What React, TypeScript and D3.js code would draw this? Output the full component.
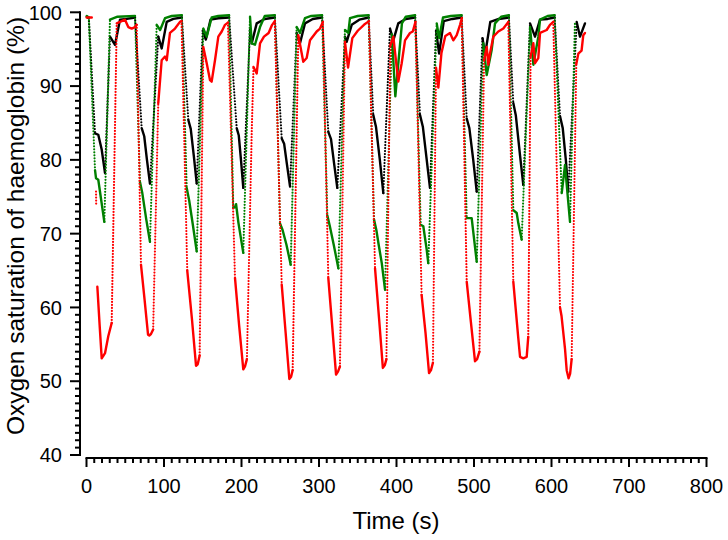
import React from "react";
import * as d3 from "d3";

type Pt = [number, number | null];

// Time (s) vs oxygen saturation (%)
const blackSeries: Pt[] = [
  [0.3, 99.4], [3, 99.2],
  [11, 83.6], [15.2, 83.4], [19.6, 81.4], [23.9, 78.2], [30.3, 96.7], [36.8, 95.6], [43.2, 99], [52, 99.1], [62.6, 99.3],
  [71.2, 84.3], [74.5, 83.2], [78, 80], [81.9, 76.8], [92.6, 96.7], [97, 95.1], [103.5, 98.7], [112, 99.1], [123, 99.3],
  [131.4, 85.4], [134.5, 84.2], [138.5, 80.5], [142.2, 76.8], [150, 97.5], [154, 96.3], [160, 99], [170, 99.2], [184, 99.3],
  [193.8, 84.3], [196.5, 83.3], [199.5, 79.8], [202.3, 76.2], [211, 97.6], [213.2, 95.8], [219.6, 98.5], [230, 99.1], [243, 99.3],
  [251.9, 82.9], [255, 82.2], [258.5, 79.5], [262.6, 76.4], [271.2, 97.2], [275.5, 95.8], [281.9, 98.5], [292, 99.1], [304, 99.3],
  [312, 83.8], [315.5, 82.8], [319.5, 79.5], [323.6, 76.2], [333.5, 96.7], [335.7, 96], [342.2, 98.3], [352, 99], [364, 99.3],
  [370, 86.1], [373.5, 84.5], [378.5, 80], [383, 75.5], [391.6, 97.8], [395.9, 96.2], [402.3, 98.5], [412, 99.1], [424, 99.3],
  [430.3, 86.1], [434, 84.5], [439, 80], [443.2, 76.2], [451, 97.5], [455, 94.4], [461, 98.8], [472, 99.1], [484, 99.3],
  [490.6, 85.6], [494, 84.3], [499, 80], [503.5, 75.7], [511, 96.5], [514.2, 94.2], [521, 98.7], [532, 99.1], [545, 99.3],
  [550.7, 87.7], [554, 86], [559.5, 80.5], [563.6, 76.6], [572.3, 98.5], [578.7, 96.7], [585.2, 99], [595, 99.1], [604, 99.3],
  [611, 85.9], [614.5, 84.3], [618.5, 80], [621.7, 75.7], [632.5, 98.7], [636.8, 96.7], [643.2, 98.5],
];

const greenSeries: Pt[] = [
  [0.3, 99.5], [3, 99.3],
  [11, 78.6], [12.3, 77.5], [15.2, 77.3], [23, 71.6], [30.3, 99], [40, 99.4], [62.6, 99.5],
  [69, 77], [72, 75.5], [77, 72], [81.9, 68.9], [90.6, 98.3], [95, 97.6], [101.3, 99.2], [110, 99.5], [123, 99.6],
  [129.3, 76.2], [132.5, 74.5], [137.5, 71], [142.2, 67.6], [150.7, 97.8], [155.1, 96.7], [161.5, 99.3], [170, 99.5], [184, 99.6],
  [189.4, 73.5], [191.5, 73.6], [193, 74], [196, 71.5], [202.3, 67.4], [211, 99.4], [213.2, 95.8], [217.4, 95.6], [223.9, 98], [230, 99.5], [243, 99.6],
  [249.7, 71.4], [253, 70.5], [258, 68.5], [263.5, 65.8], [271.2, 98], [275.5, 97.2], [281.9, 99.2], [290, 99.5], [304, 99.6],
  [310.7, 72.5], [314, 71], [319, 68.5], [325, 65.3], [333.5, 97.6], [337.8, 97.2], [340, 99.2], [350, 99.5], [364, 99.6],
  [371, 71.9], [374, 70.5], [377, 68.5], [381, 66], [385.2, 62.4], [394, 97], [398.5, 88.6], [407, 98.5], [412, 99.4], [424, 99.6],
  [431.2, 71.2], [434.6, 71], [439, 67.8], [441, 66], [451.9, 98.5], [455, 96.5], [460, 99.3], [470, 99.5], [484, 99.6],
  [490.6, 72.1], [497, 72.1], [503.5, 66.2], [512, 95.8], [516.4, 91.5], [522.8, 94.9], [527.1, 98.5], [535, 99.4], [545, 99.6],
  [550.7, 73.2], [555.1, 72.8], [557.2, 71.4], [561.5, 69.2], [572.3, 98], [576.6, 92.9], [583, 96.7], [585.2, 99], [595, 99.5], [604, 99.6],
  [613.2, 75.5], [617.4, 79.3], [623.9, 71.6], [630.3, 98.7],
];

const redSeries: Pt[] = [
  [0.3, 99.3], [6.8, 99.3], [7, null], [12.3, 75.7], [12.5, 73.9], [13, null],
  [14, 62.8], [17, 57.5], [19.6, 53.1], [21.5, 53.4], [23.9, 53.8], [28.1, 56.1], [32.5, 57.9], [39, 98.5], [43.2, 98.7], [49.7, 99], [53.9, 98], [58.3, 97.8], [62.6, 98], [64.8, 98.3],
  [70.3, 65.8], [75, 61], [79.4, 56.3], [81, 56.2], [83.2, 56.4], [86, 57], [92.6, 87.7], [97, 93.5], [101.3, 94], [103.5, 93.5], [107.7, 97.2], [114.2, 97.8], [120.6, 98.7], [122.6, 98.8],
  [130, 65], [136, 58.5], [141.3, 52.1], [143.5, 52.3], [146, 53.5], [150.7, 95.3], [155.1, 93.1], [159.4, 90.8], [161.5, 90.6], [165.8, 93.5], [170.1, 96.7], [174.5, 97.4], [178.7, 98.3], [182.5, 98.6],
  [191.6, 64], [197, 57.5], [202.3, 51.6], [204.5, 52], [207, 53], [213.2, 83.8], [215.5, 92.6], [219.6, 91.7], [223.9, 95.8], [229, 96.7], [235, 97.2], [239.5, 98.3], [243, 98.8],
  [251.9, 63.1], [257, 56.5], [261.7, 50.3], [264, 50.6], [266, 51.5], [273.3, 96.9], [279.7, 93.3], [284.1, 93.8], [288.4, 96.2], [297, 97.4], [301.3, 97.8], [305, 98.7],
  [312, 64], [317, 57.5], [322, 50.9], [324.5, 51.3], [327, 52], [333.5, 96], [337.5, 92.5], [343, 96.5], [350, 97.5], [358, 98.3], [364.5, 98.8],
  [372.3, 65.3], [377.5, 58.5], [382.4, 51.8], [385, 52.2], [387, 53], [392, 95.5], [395.9, 96.7], [400.2, 92.6], [402.3, 90.6], [406.7, 93.1], [411, 96.2], [417.4, 97.2], [421, 97.4], [424.5, 98.7],
  [432.4, 61.7], [437.5, 56.5], [442, 51.1], [444.5, 51.5], [447, 52.5], [451, 92.5], [454, 89.8], [458, 94.5], [463, 96.8], [469, 97.2], [473.3, 96.2], [477.7, 96.9], [482, 98.3], [484.2, 99.2],
  [490.6, 63.5], [496, 58], [501.3, 52.7], [504, 53], [507, 54], [513, 93.5], [516.4, 95.3], [518.5, 92.9], [520.6, 94.4], [524.9, 96.7], [531.4, 97.4], [537.9, 97.8], [544.3, 98.7],
  [550.7, 63.5], [557, 56], [559.4, 53.3], [563.6, 53.1], [568, 53.3], [570, 56], [573, 94], [576.6, 95.8], [578.7, 93.1], [583, 93.8], [585.2, 97.2], [593.8, 97.6], [598, 98.3], [602.3, 98.7],
  [611, 60], [613, 58.8], [617.5, 54.3], [619.6, 51.5], [622, 50.4], [624, 51], [626, 53], [632, 93], [634.6, 94.4], [638.8, 94.8], [641, 96.9], [643.2, 97.2],
];

const xTickValues = [0, 100, 200, 300, 400, 500, 600, 700, 800];
const yTickValues = [40, 50, 60, 70, 80, 90, 100];
const xTitle = "Time (s)";
const yTitle = "Oxygen saturation of haemoglobin (%)";

const W = 728;
const H = 540;
const FONT = "'Liberation Sans', Arial, Helvetica, sans-serif";

const xs = d3.scaleLinear().domain([0, 800]).range([86.5, 706.5]);
const ys = d3.scaleLinear().domain([40, 100]).range([455, 12.3]);

type Run = { dotted: boolean; pts: [number, number][] };

function buildRuns(data: Pt[]): Run[] {
  const out: Run[] = [];
  let cur: Run | null = null;
  for (let i = 0; i < data.length - 1; i++) {
    const a = data[i];
    const b = data[i + 1];
    if (a[1] == null || b[1] == null) {
      if (cur) out.push(cur);
      cur = null;
      continue;
    }
    const x0 = xs(a[0]), y0 = ys(a[1]);
    const x1 = xs(b[0]), y1 = ys(b[1]);
    const len = Math.hypot(x1 - x0, y1 - y0);
    const dt = Math.max(b[0] - a[0], 1e-6);
    const speed = len / dt;
    const dotted = speed > 15 || (speed > 9.5 && Math.abs(b[1] - a[1]) >= 10);
    if (!cur || cur.dotted !== dotted) {
      if (cur) out.push(cur);
      cur = { dotted, pts: [[x0, y0]] };
    }
    cur.pts.push([x1, y1]);
  }
  if (cur) out.push(cur);
  return out;
}

const line = d3.line<[number, number]>().x((d) => d[0]).y((d) => d[1]);

function Series({ data, color }: { data: Pt[]; color: string }) {
  const runs = buildRuns(data);
  return (
    <g>
      {runs.map((r, i) =>
        r.dotted ? (
          <path key={i} d={line(r.pts) || ""} fill="none" stroke={color} strokeWidth={2.2}
            strokeDasharray="0 3" strokeLinecap="round" />
        ) : (
          <path key={i} d={line(r.pts) || ""} fill="none" stroke={color} strokeWidth={2.4}
            strokeLinejoin="round" strokeLinecap="round" />
        )
      )}
    </g>
  );
}

export default function App() {
  const xMinor = d3.range(0, 801, 10).filter((v) => v % 100 !== 0);
  const yMinor = d3.range(40, 101, 1).filter((v) => v % 10 !== 0);
  const axisX = 80;
  const axisY = 458;
  return (
    <svg width={W} height={H} style={{ position: "absolute", left: 0, top: 0, background: "#fff" }}
      fontFamily={FONT}>
      <rect x={0} y={0} width={W} height={H} fill="#fff" />
      {/* y axis */}
      <line x1={axisX} x2={axisX} y1={ys(40) + 1} y2={ys(100) - 1} stroke="#000" strokeWidth={2} />
      {yTickValues.map((v) => (
        <line key={"ym" + v} x1={70} x2={axisX} y1={ys(v)} y2={ys(v)} stroke="#000" strokeWidth={2} />
      ))}
      {yMinor.map((v) => (
        <line key={"yn" + v} x1={75} x2={axisX} y1={ys(v)} y2={ys(v)} stroke="#000" strokeWidth={2} />
      ))}
      {yTickValues.map((v) => (
        <text key={"yl" + v} x={62} y={ys(v)} dy="0.36em" textAnchor="end" fontSize={20} fill="#000">{v}</text>
      ))}
      {/* x axis */}
      <line x1={xs(0) - 1} x2={xs(800) + 1} y1={axisY} y2={axisY} stroke="#000" strokeWidth={2} />
      {xTickValues.map((v) => (
        <line key={"xm" + v} x1={xs(v)} x2={xs(v)} y1={axisY} y2={axisY + 9} stroke="#000" strokeWidth={2} />
      ))}
      {xMinor.map((v) => (
        <line key={"xn" + v} x1={xs(v)} x2={xs(v)} y1={axisY} y2={axisY + 5} stroke="#000" strokeWidth={2} />
      ))}
      {xTickValues.map((v) => (
        <text key={"xl" + v} x={xs(v)} y={493} textAnchor="middle" fontSize={20} fill="#000">{v}</text>
      ))}
      <text x={396} y={529} textAnchor="middle" fontSize={24} fill="#000">{xTitle}</text>
      <text transform={`translate(24,${226}) rotate(-90)`} textAnchor="middle" fontSize={24.5} fill="#000">{yTitle}</text>
      {/* data */}
      <Series data={blackSeries} color="#000000" />
      <Series data={greenSeries} color="#008000" />
      <Series data={redSeries} color="#ff0000" />
    </svg>
  );
}
